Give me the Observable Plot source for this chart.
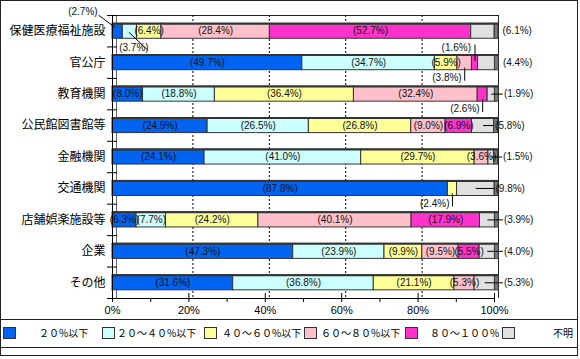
<!DOCTYPE html>
<html><head><meta charset="utf-8">
<script src="https://cdn.jsdelivr.net/npm/d3@7"></script>
<script src="https://cdn.jsdelivr.net/npm/@observablehq/plot@0.6"></script>
<style>
body{margin:0;background:#fff;}
#wrap{position:relative;width:580px;height:359px;overflow:hidden;background:#fff;font-family:"Noto Sans CJK JP",sans-serif;}
#wrap svg{position:absolute;left:0;top:0;}
.frame{position:absolute;left:0;top:0;width:578px;height:356px;box-sizing:border-box;border:1px solid #222;}
.hline{position:absolute;left:0;width:578px;height:0;border-top:1px solid #222;}
.sw{position:absolute;top:327px;width:13px;height:12px;box-sizing:border-box;border:1px solid #333;}
.lb{position:absolute;top:326px;font-size:10px;line-height:14px;color:#000;white-space:nowrap;}
</style></head><body><div id="wrap"></div>
<script>
// ---- data ----
const categories = ["保健医療福祉施設","官公庁","教育機関","公民館図書館等","金融機関","交通機関","店舗娯楽施設等","企業","その他"];
const seriesNames = ["２０%以下","２０～４０%以下","４０～６０%以下","６０～８０%以下","８０～１００%","不明"];
const seriesColors = ["#0064f0","#ccffff","#ffff99","#ffc0cb","#ff33cc","#e0e0e0"];
const pct20      = [2.7,49.7,8.0,24.9,24.1,87.8,6.3,47.3,31.6];
const pct20to40  = [3.7,34.7,18.8,26.5,41.0,0,7.7,23.9,36.8];
const pct40to60  = [6.4,5.9,36.4,26.8,29.7,2.4,24.2,9.9,21.1];
const pct60to80  = [28.4,3.8,32.4,9.0,3.6,0,40.1,9.5,5.3];
const pct80to100 = [52.7,1.6,2.6,6.9,0,0,17.9,5.5,0];
const pctUnknown = [6.1,4.4,1.9,5.8,1.5,9.8,3.9,4.0,5.3];
const xTicks = [0,10,20,30,40,50,60,70,80,90,100];
const xLabelTicks = [0,20,40,60,80,100];
const gridTicks = [20,40,60,80];
// labels drawn outside their segment (series index: 0..5)
const callouts = [
  {cat:"保健医療福祉施設", s:0, kind:"diagUpLeft"},
  {cat:"保健医療福祉施設", s:1, kind:"diagDownRight"},
  {cat:"保健医療福祉施設", s:5, kind:"right"},
  {cat:"官公庁", s:4, kind:"above"},
  {cat:"官公庁", s:3, kind:"below"},
  {cat:"官公庁", s:5, kind:"right"},
  {cat:"教育機関", s:4, kind:"below"},
  {cat:"教育機関", s:5, kind:"rightLine"},
  {cat:"公民館図書館等", s:5, kind:"rightTight"},
  {cat:"金融機関", s:5, kind:"rightLine"},
  {cat:"交通機関", s:2, kind:"below"},
  {cat:"交通機関", s:5, kind:"rightTight"},
  {cat:"店舗娯楽施設等", s:5, kind:"rightLine"},
  {cat:"企業", s:5, kind:"rightLine"},
  {cat:"その他", s:5, kind:"rightLine"}
];

// ---- build ----
const series = [pct20,pct20to40,pct40to60,pct60to80,pct80to100,pctUnknown];
const W=580, H=319, mL=112, mR=86, mT=15, mB=21;
const pxPct = (W-mL-mR)/100;
const pxRow = (H-mT-mB)/categories.length;
const half = 0.24;
const depth = 4/pxPct;

const segs = [];
const totals = [];
categories.forEach((c,i)=>{
  let acc = 0;
  series.forEach((arr,s)=>{
    const v = arr[i];
    segs.push({cat:c, i, s, v, x1:acc, x2:acc+v, cx:acc+v/2});
    acc += v;
  });
  totals.push({cat:c, i, total:acc});
});
const segOf = (cat,s)=>segs.find(d=>d.cat===cat && d.s===s);
const isCallout = d => callouts.some(c=>c.cat===d.cat && c.s===d.s);
const fmt = v => "(" + v.toFixed(1) + "%)";

const insideLabels = segs.filter(d=>d.v>0 && !isCallout(d));

// callout geometry (pixel offsets converted to data units)
const cTexts = [], cLinks = [];
const X = (base, px) => base + px/pxPct;
const Y = (i, px) => i + px/pxRow;
callouts.forEach(c=>{
  const d = segOf(c.cat,c.s);
  const tot = totals[d.i].total;
  const t = {text: fmt(d.v)};
  if (c.kind==="diagUpLeft"){
    Object.assign(t,{x:X(d.cx,-20), y:Y(d.i,-19), anchor:"end"});
    cLinks.push({x1:X(d.cx,-19), y1:Y(d.i,-16), x2:X(d.cx,-3), y2:Y(d.i,-4)});
  } else if (c.kind==="diagDownRight"){
    Object.assign(t,{x:X(d.cx,4), y:Y(d.i,17), anchor:"middle"});
    cLinks.push({x1:X(d.cx,-1), y1:Y(d.i,1), x2:X(d.cx,18), y2:Y(d.i,19)});
  } else if (c.kind==="above"){
    Object.assign(t,{x:X(d.cx,-4), y:Y(d.i,-15), anchor:"end"});
    cLinks.push({x1:d.cx, y1:Y(d.i,-18), x2:d.cx, y2:Y(d.i,-2)});
  } else if (c.kind==="below"){
    Object.assign(t,{x:X(d.cx,-3), y:Y(d.i,15), anchor:"end"});
    cLinks.push({x1:d.cx, y1:Y(d.i,5), x2:d.cx, y2:Y(d.i,18)});
  } else if (c.kind==="right"){
    Object.assign(t,{x:X(tot,8), y:d.i, anchor:"start"});
  } else if (c.kind==="rightLine"){
    Object.assign(t,{x:X(tot,9), y:d.i, anchor:"start"});
    cLinks.push({x1:d.cx, y1:d.i, x2:X(tot,8), y2:d.i});
  } else if (c.kind==="rightTight"){
    Object.assign(t,{x:X(tot,1), y:d.i, anchor:"start"});
    cLinks.push({x1:d.cx, y1:d.i, x2:X(tot,0), y2:d.i});
  }
  cTexts.push(t);
});

const boundaries = d3.range(-0.5, categories.length, 1);
const yMax = categories.length - 0.5;
const textOpts = {x:"x", y:"y", text:"text", fill:"#111", fontSize:10};

const chart = Plot.plot({
  width: W, height: H,
  marginLeft: mL, marginRight: mR, marginTop: mT, marginBottom: mB,
  x: {domain:[0,100]},
  y: {domain:[yMax,-0.5]},
  style: {background:"transparent", fontFamily:"'Liberation Sans', Arial, sans-serif", fontSize:"10px", color:"#000"},
  marks: [
    // back wall
    Plot.ruleY([-0.5], {x1:0, x2:100, dx:4, stroke:"#222"}),
    Plot.ruleX([100], {y1:-0.5, y2:yMax, dx:4, stroke:"#222"}),
    Plot.ruleX([0], {y1:-0.5, y2:yMax, dx:4, stroke:"#666"}),
    Plot.ruleX(gridTicks, {y1:-0.5, y2:yMax, dx:4, stroke:"#000", strokeDasharray:"2,2"}),
    // 3D side of bars
    Plot.rectX(totals, {x1:d=>d.total, x2:d=>d.total+depth, y1:d=>d.i-half, y2:d=>d.i+half, fill:"#7a7a7a", stroke:"#333", strokeWidth:1}),
    // bars
    Plot.rectX(segs.filter(d=>d.v>0), {x1:"x1", x2:"x2", y1:d=>d.i-half, y2:d=>d.i+half, fill:d=>seriesColors[d.s], stroke:"#333", strokeWidth:1}),
    Plot.ruleY(totals, {y:d=>d.i-half, x1:0, x2:d=>d.total+depth, stroke:"#333", strokeWidth:2}),
    // axes
    Plot.ruleX([0], {y1:-0.5, y2:yMax, stroke:"#000"}),
    Plot.ruleY([yMax], {x1:0, x2:100, stroke:"#000"}),
    Plot.ruleY(boundaries, {x1:-5/pxPct, x2:5/pxPct, stroke:"#000"}),
    Plot.ruleX(xLabelTicks, {y1:Y(yMax,-5), y2:yMax, stroke:"#000"}),
    Plot.axisX({ticks:xTicks, tickFormat:d=>xLabelTicks.includes(d)?d+"%":"", tickSize:4, tickPadding:4, fontSize:11, label:null, stroke:"#000"}),
    Plot.axisY({ticks:d3.range(categories.length), tickFormat:i=>categories[i], tickSize:0, tickPadding:7, fontSize:12, fontFamily:"'Noto Sans CJK JP', sans-serif", label:null}),
    // labels
    Plot.text(insideLabels, {x:"cx", y:"i", text:d=>fmt(d.v), fill:"#111", fontSize:10}),
    Plot.link(cLinks, {x1:"x1", y1:"y1", x2:"x2", y2:"y2", stroke:"#000", strokeWidth:1}),
    Plot.text(cTexts.filter(t=>t.anchor==="start"), {...textOpts, textAnchor:"start"}),
    Plot.text(cTexts.filter(t=>t.anchor==="middle"), {...textOpts, textAnchor:"middle"}),
    Plot.text(cTexts.filter(t=>t.anchor==="end"), {...textOpts, textAnchor:"end"})
  ]
});

const wrap = document.getElementById("wrap");
wrap.appendChild(chart);

// frame and legend
const fr = document.createElement("div"); fr.className="frame"; wrap.appendChild(fr);
[319,347].forEach(y=>{const l=document.createElement("div"); l.className="hline"; l.style.top=y+"px"; wrap.appendChild(l);});
const swLeft = [3,102,204,304,405,502];
const lbLeft = [39,117,222,321,430,553];
seriesNames.forEach((n,k)=>{
  const sw=document.createElement("div"); sw.className="sw"; sw.style.left=swLeft[k]+"px"; sw.style.background=seriesColors[k]; wrap.appendChild(sw);
  const lb=document.createElement("div"); lb.className="lb"; lb.style.left=lbLeft[k]+"px"; lb.textContent=n; wrap.appendChild(lb);
});
</script></body></html>
